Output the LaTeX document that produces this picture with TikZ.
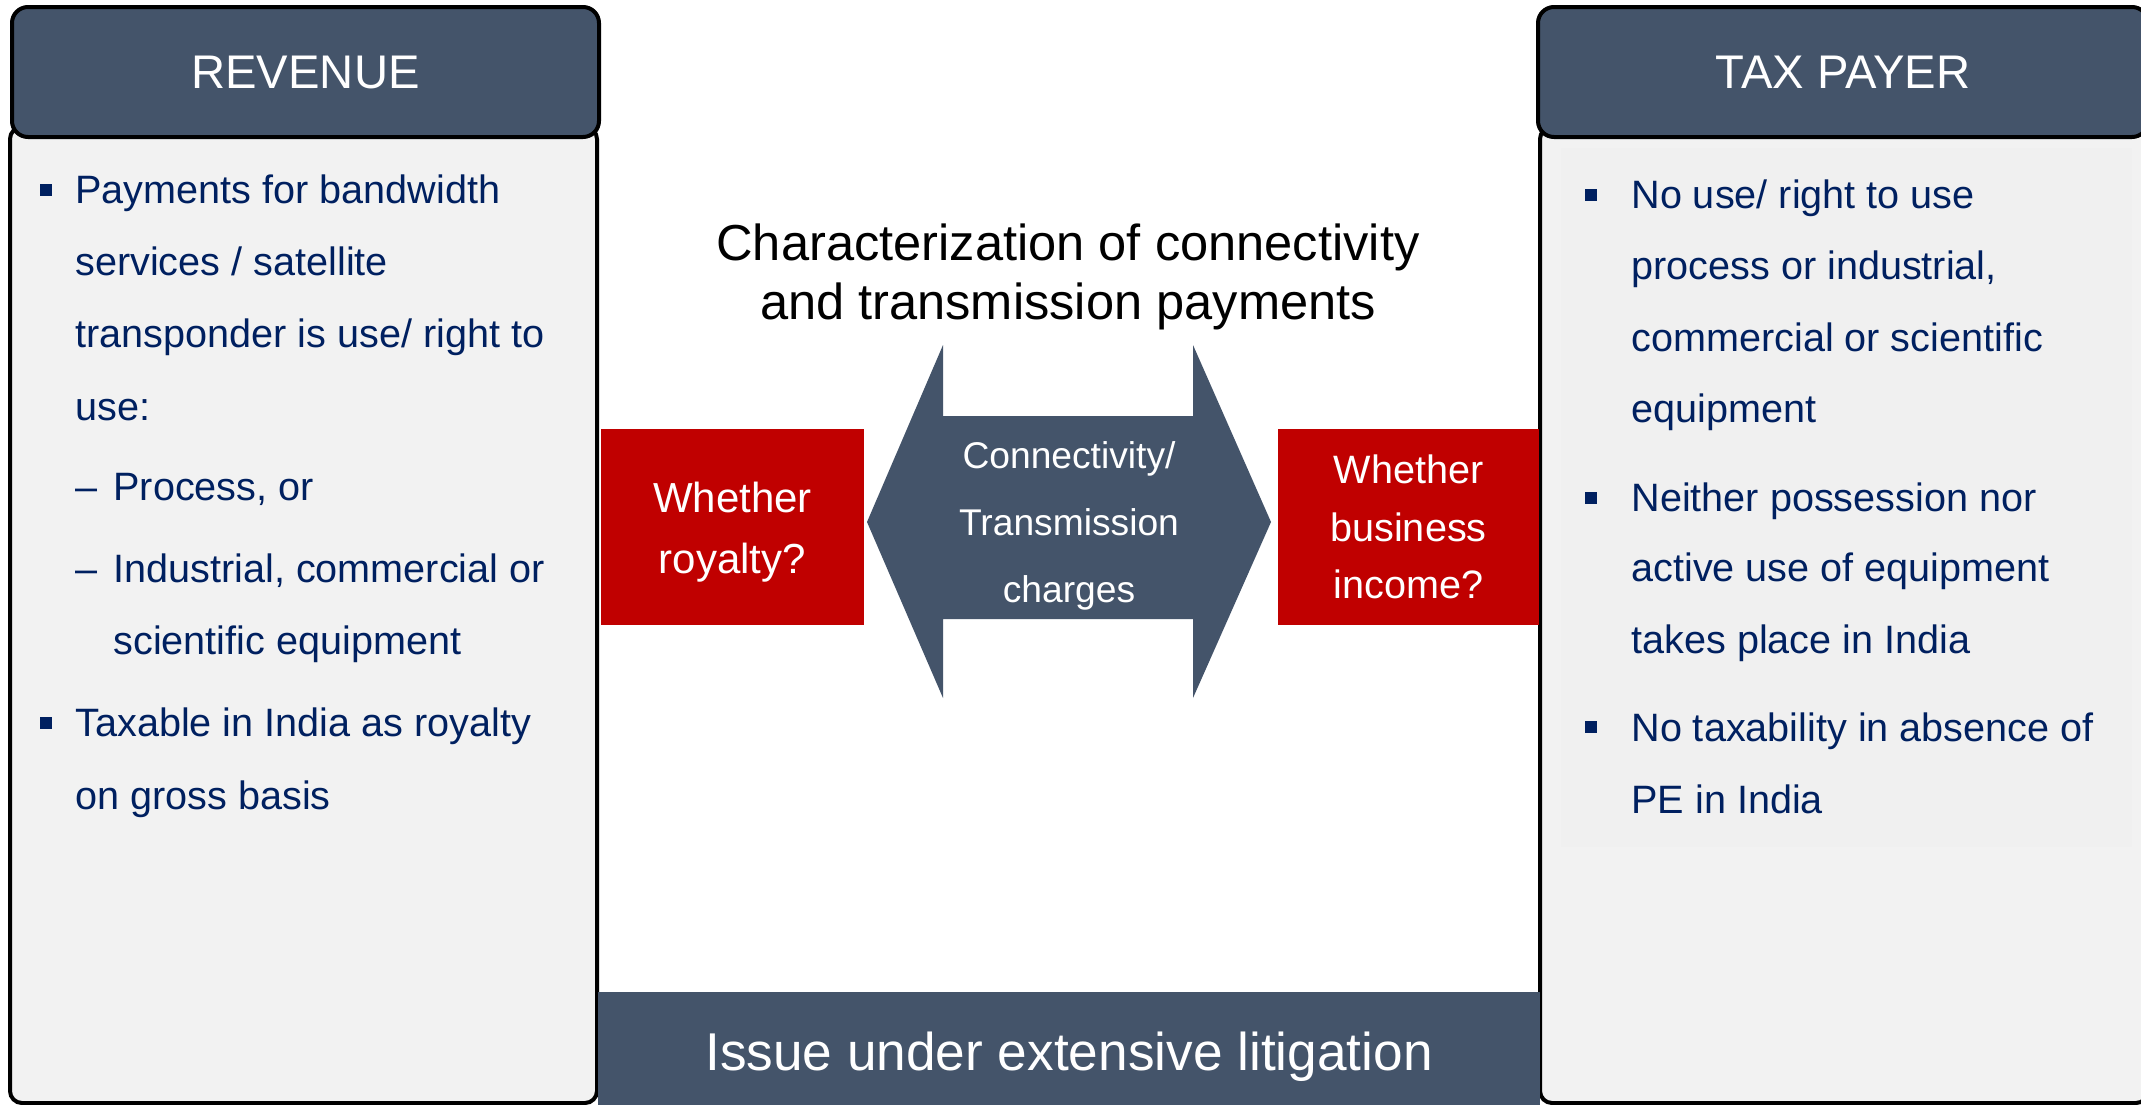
\documentclass[tikz,border=0pt]{standalone}
\usepackage{fontspec}
\setmainfont{Liberation Sans}
\definecolor{slate}{HTML}{44546A}
\definecolor{darkred}{HTML}{C00000}
\definecolor{panel}{HTML}{F2F2F2}
\definecolor{panelin}{HTML}{F0F0F0}
\definecolor{navy}{HTML}{002060}
\begin{document}
\begin{tikzpicture}[x=0.5pt,y=-0.5pt,
  hdr/.style={draw=black,line width=2pt,fill=slate,rounded corners=8pt,text=white,font=\fontsize{23.6}{28}\selectfont,inner sep=0pt,minimum height=65pt},
  bodybox/.style={draw=black,line width=2pt,fill=panel,rounded corners=6pt,inner sep=0pt,minimum height=488pt},
  redbox/.style={fill=darkred,text=white,align=center,inner sep=0pt,minimum height=98pt},
  txt/.style={anchor=base west,inner sep=0pt,text=navy,font=\fontsize{19.8}{24}\selectfont},
  blt/.style={fill=navy,inner sep=0pt,minimum size=6pt},
]
\useasboundingbox (0,0) rectangle (2141,1104);
\clip (0,0) rectangle (2141,1104);
\fill[white] (0,0) rectangle (2141,1104);

% side panels
\node[bodybox,minimum width=293.5pt] (lbody) at (303.5,615) {};
\node[bodybox,minimum width=304pt] (rbody) at (1844,615) {};
\fill[panelin] (1561,148) rectangle (2132,847);
\node[hdr,minimum width=293.5pt] (rev) at (305.5,72) {REVENUE};
\node[hdr,minimum width=305pt] (tax) at (1843,72) {TAX PAYER};

% title
\node[align=center,font=\fontsize{25.3}{29.5}\selectfont,inner sep=0pt] (title) at (1068,277)
  {Characterization of connectivity\\and transmission payments};

% double arrow
\path[fill=slate] (867,522) -- (943,345) -- (943,416) -- (1193,416) -- (1193,345)
  -- (1271,522) -- (1193,698) -- (1193,619) -- (943,619) -- (943,698) -- cycle;
\node[text=white,align=center,font=\fontsize{18.6}{33.5}\selectfont,inner sep=0pt] (conn) at (1069,526)
  {Connectivity/\\Transmission\\charges};

% red boxes
\node[redbox,minimum width=131.5pt,font=\fontsize{21}{30.5}\selectfont] (roy) at (732.5,527)
  {\raisebox{-2.8pt}[\height][\depth]{\parbox{120pt}{\centering Whether\\royalty?}}};
\node[redbox,minimum width=130.5pt,font=\fontsize{19.8}{28.75}\selectfont] (biz) at (1408.5,527)
  {Whether\\business\\income?};

% bottom bar
\node[fill=slate,minimum width=471pt,minimum height=59.5pt,inner sep=0pt,text=white,
  text depth=0pt,font=\fontsize{26.6}{30}\selectfont] (bar) at (1069,1051)
  {Issue under extensive litigation};

% left text
\node[blt] (lb1) at (45.5,189.5) {};
\node[txt] (l1) at (75,203) {Payments for bandwidth};
\node[txt] (l2) at (75,275.5) {services / satellite};
\node[txt] (l3) at (75,347.5) {transponder is use/ right to};
\node[txt] (l4) at (75,420) {use:};
\node[txt] (ld1) at (75,500.5) {–};
\node[txt] (l5) at (113,500.5) {Process, or};
\node[txt] (ld2) at (75,582.5) {–};
\node[txt] (l6) at (113,582.5) {Industrial, commercial or};
\node[txt] (l7) at (113,654.5) {scientific equipment};
\node[blt] (lb2) at (45.5,723) {};
\node[txt] (l8) at (75,736.5) {Taxable in India as royalty};
\node[txt] (l9) at (75,809) {on gross basis};

% right text
\node[blt] (rb1) at (1590.5,194.5) {};
\node[txt] (r1) at (1631,208.5) {No use/ right to use};
\node[txt] (r2) at (1631,279.5) {process or industrial,};
\node[txt] (r3) at (1631,351.5) {commercial or scientific};
\node[txt] (r4) at (1631,422.5) {equipment};
\node[blt] (rb2) at (1590.5,497.5) {};
\node[txt] (r5) at (1631,511.5) {Neither possession nor};
\node[txt] (r6) at (1631,581.5) {active use of equipment};
\node[txt] (r7) at (1631,653.5) {takes place in India};
\node[blt] (rb3) at (1590.5,727) {};
\node[txt] (r8) at (1631,741) {No taxability in absence of};
\node[txt] (r9) at (1631,813) {PE in India};
\end{tikzpicture}
\end{document}
